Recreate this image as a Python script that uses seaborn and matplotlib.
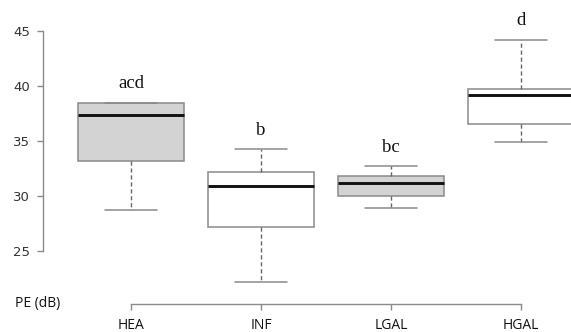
import numpy as np
import pandas as pd
import matplotlib
matplotlib.use("Agg")
import matplotlib.pyplot as plt
import seaborn as sns

groups = ["HEA", "INF", "LGAL", "HGAL"]
# five-number summaries: min, Q1, median, Q3, max
hea = [28.7, 33.2, 37.35, 38.43, 38.48]
inf = [22.15, 27.2, 30.87, 32.15, 34.24]
lgal = [28.9, 30.0, 31.15, 31.85, 32.69]
hgal = [34.88, 36.55, 39.15, 39.73, 44.24]
letters = ["acd", "b", "bc", "d"]
fills = ["#d3d3d3", "#ffffff", "#d3d3d3", "#ffffff"]
yticks = [25, 30, 35, 40, 45]

df = pd.DataFrame({
    "group": np.repeat(groups, 5),
    "value": hea + inf + lgal + hgal,
})

sns.set_style("white")
fig = plt.figure(figsize=(5.71, 3.32), dpi=100)
W, H = 571, 332
ax = fig.add_axes([43 / W, (H - 304) / H, (W - 43) / W, 304 / H])

edge = "#8a8a8a"
sns.boxplot(data=df, x="group", y="value", hue="group", palette=fills,
            saturation=1, width=0.81, whis=(0, 100), legend=False,
            linecolor=edge, linewidth=1.1, ax=ax,
            medianprops=dict(color="#111111", linewidth=2.1),
            whiskerprops=dict(linestyle=(0, (3, 2)), color="#666666", linewidth=1.0),
            capprops=dict(color=edge, linewidth=1.1),
            boxprops=dict(edgecolor=edge))

ax.set_xlim(-0.677, 3.385)
ax.set_ylim(20.14, 47.85)
ax.set_xlabel("")
ax.set_ylabel("")

for sp in ["top", "right"]:
    ax.spines[sp].set_visible(False)
ax.spines["left"].set_bounds(25, 45)
ax.spines["bottom"].set_bounds(0, 3)
for sp in ["left", "bottom"]:
    ax.spines[sp].set_color(edge)
    ax.spines[sp].set_linewidth(1.0)

ax.set_yticks(yticks)
ax.set_yticklabels([str(t) for t in yticks], fontsize=9.5, color="#333333",
                   fontfamily="DejaVu Sans")
ax.set_xticks(range(len(groups)))
ax.set_xticklabels(groups, fontsize=10, fontfamily="Open Sans", color="#111111")
ax.tick_params(axis="y", length=4.3, width=1.0, color=edge, pad=5.0, left=True)
ax.tick_params(axis="x", length=4.3, width=1.0, color=edge, pad=5.8, bottom=True)

maxima = [max(hea), max(inf), max(lgal), max(hgal)]
for i, (lab, m) in enumerate(zip(letters, maxima)):
    ax.text(i, m + 1.35, lab, ha="center", va="baseline", fontsize=13.5,
            fontfamily="Liberation Serif", color="#111111")

fig.text(15 / W, (H - 304) / H, "PE (dB)", ha="left", va="center",
         fontsize=10, fontfamily="Open Sans", color="#111111")

fig.savefig("out.png", dpi=100)
